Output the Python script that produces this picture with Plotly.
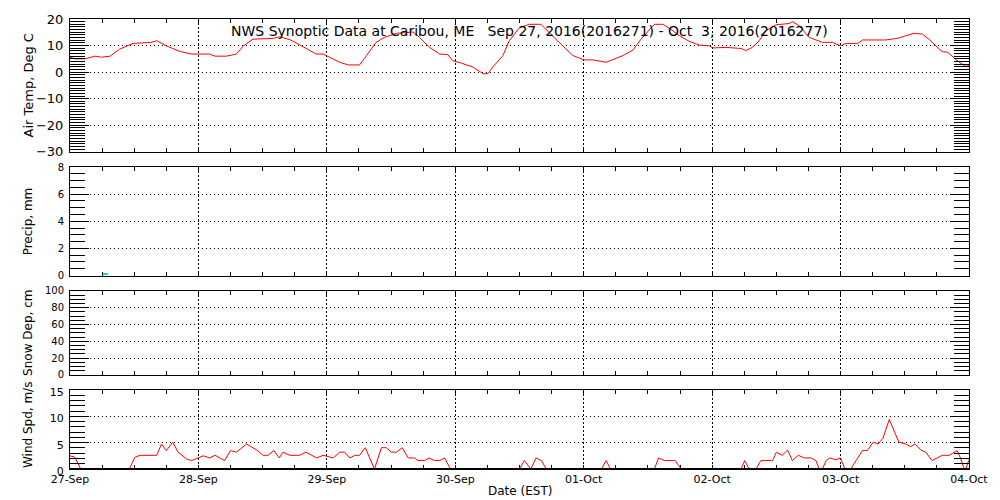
import pandas as pd
import plotly.graph_objects as go

# ---------------- data (hours since 2016-09-27 00:00 EST) ----------------
start = pd.Timestamp("2016-09-27 00:00")
end = pd.Timestamp("2016-10-04 00:00")

temp_hours = [0, 0.9, 2.8, 4.7, 5.9, 7.5, 9.3, 11.8, 15.2, 16.2, 18.0, 20.5, 22.7, 26.1, 27.1, 29.2,
              31.1, 32.4, 34.2, 38.0, 39.2, 41.1, 42.9, 46.0, 47.3, 48.5, 50.4, 52.0, 54.1, 55.4, 57.2,
              58.8, 61.0, 64.1, 65.3, 67.2, 69.1, 70.6, 71.5, 73.1, 75.3, 77.2, 78.1, 79.0, 80.9, 82.1,
              84.0, 85.9, 88.0, 90.8, 94.0, 96.1, 97.7, 100.2, 101.4, 103.3, 105.2, 106.7, 109.2, 110.8,
              112.0, 113.9, 115.7, 117.6, 119.5, 120.1, 122.6, 125.4, 126.3, 127.5, 128.8, 130.0, 131.9,
              134.4, 135.0, 136.3, 138.1, 140.6, 142.5, 144.0, 145.0, 147.2, 148.1, 152.4, 154.6, 156.2,
              157.7, 159.3, 160.5, 161.8, 163.0, 164.0, 164.9, 165.8, 167.4, 168]
air_temp_c = [5.6, 5.0, 5.0, 6.0, 5.6, 6.0, 8.7, 10.8, 11.2, 11.8, 9.9, 7.8, 6.8, 6.8, 6.0, 6.0,
              6.8, 9.9, 12.4, 12.7, 13.3, 12.2, 10.3, 6.8, 6.8, 5.6, 3.7, 2.7, 2.7, 6.2, 11.2,
              13.1, 14.6, 15.1, 13.1, 9.3, 6.8, 6.6, 4.3, 3.4, 1.9, -0.6, -0.6, 1.9, 6.2, 11.8,
              16.8, 18.0, 18.0, 12.4, 6.2, 4.6, 4.6, 3.7, 4.6, 6.2, 8.3, 12.4, 18.0, 18.0,
              16.5, 13.7, 11.6, 10.2, 9.9, 9.1, 9.3, 8.9, 8.1, 9.3, 11.8, 15.5, 17.8,
              18.3, 19.0, 17.4, 13.1, 11.2, 11.2, 9.9, 10.8, 10.8, 12.1, 12.1, 12.7, 13.7,
              14.6, 14.3, 12.4, 9.9, 7.7, 7.5, 5.8, 4.3, 2.1, 2.5]

precip_hours = [6.5]
precip_mm = [0.15]

snow_hours = []
snow_cm = []

wind_hours = [0, 0.9, 2.0, 11.1, 12.1, 13.1, 16.2, 17.1, 18.0, 19.2, 20.2, 21.8, 22.7, 24.9, 26.1,
              27.1, 28.9, 30.0, 31.1, 33.0, 34.9, 36.1, 37.0, 38.1, 39.1, 39.8, 41.1, 42.9, 44.1,
              46.1, 47.3, 49.2, 50.4, 51.3, 52.3, 53.2, 54.1, 55.2, 56.0, 56.9, 58.2, 59.1, 60.1,
              61.0, 62.1, 63.2, 64.4, 65.0, 66.3, 67.1, 68.1, 69.1, 70.0, 71.1, 84.0, 84.9, 86.1,
              87.1, 88.1, 89.0, 99.3, 100.2, 101.0, 109.2, 110.0, 111.1, 113.1, 114.2, 125.4,
              126.1, 126.9, 128.2, 129.1, 131.3, 132.0, 133.1, 134.1, 135.0, 136.1, 137.2, 138.5,
              139.4, 140.0, 140.6, 141.3, 142.0, 143.1, 144.0, 144.8, 145.9, 146.9, 148.1, 149.0,
              150.1, 151.0, 151.9, 153.1, 154.9, 156.2, 157.1, 157.9, 159.0, 159.9, 161.1, 163.0,
              164.3, 165.8, 166.4, 167.1, 167.4, 168]
wind_ms = [2.5, 2.25, 0, 0, 2.2, 2.6, 2.6, 4.75, 3.5, 5.1, 3.2, 1.9, 1.6, 2.5, 2.1,
           2.6, 1.6, 3.5, 3.2, 4.75, 3.6, 2.6, 2.6, 3.5, 2.1, 3.2, 2.6, 2.6, 3.2,
           2.1, 2.6, 2.1, 3.2, 3.2, 2.1, 2.6, 2.6, 4.05, 2.1, 0, 4.05, 4.05, 3.2,
           3.2, 4.05, 2.1, 2.1, 1.6, 1.6, 2.1, 1.6, 1.6, 2.1, 0, 0, 1.6, 0,
           2.1, 1.6, 0, 0, 1.6, 0, 0, 2.1, 1.6, 1.6, 0, 0,
           1.6, 0, 0, 1.6, 1.6, 3.2, 2.6, 3.6, 1.6, 2.6, 2.1, 2.1,
           1.6, 0, 0, 1.6, 2.1, 1.75, 2.1, 0, 0, 1.6, 3.5, 3.5,
           5.1, 4.75, 5.8, 9.4, 5.1, 4.75, 4.25, 4.75, 3.6, 3.2, 1.6, 2.6,
           2.6, 3.5, 2.1, 0, 0, 1.75]

title_text = "NWS Synoptic Data at Caribou, ME   Sep 27, 2016(2016271) - Oct  3, 2016(2016277)"
y_titles = ["Air Temp, Deg C", "Precip, mm", "Snow Dep, cm", "Wind Spd, m/s"]
x_title = "Date (EST)"


def to_time(hours):
    return start + pd.to_timedelta(hours, unit="h")


FONT = "DejaVu Sans"
RED = "#ff0000"

fig = go.Figure()
fig.add_trace(go.Scatter(x=to_time(temp_hours), y=air_temp_c, mode="lines",
                         line=dict(color=RED, width=1), xaxis="x", yaxis="y"))
fig.add_trace(go.Bar(x=to_time(precip_hours), y=precip_mm, width=1.2 * 3600 * 1000,
                     marker=dict(color="#00e5e5", line=dict(width=0)), xaxis="x2", yaxis="y2"))
fig.add_trace(go.Scatter(x=to_time(snow_hours), y=snow_cm, mode="lines",
                         line=dict(color=RED, width=1), xaxis="x3", yaxis="y3"))
fig.add_trace(go.Scatter(x=to_time(wind_hours), y=wind_ms, mode="lines",
                         line=dict(color=RED, width=1), xaxis="x4", yaxis="y4"))

xcommon = dict(
    type="date", range=[start, end], showline=True, linecolor="black", linewidth=1,
    mirror="allticks", ticks="inside", ticklen=4, tickcolor="black",
    tick0=start, dtick=86400000, tickformat="%d-%b",
    showgrid=True, gridcolor="black", griddash="2px,2px", gridwidth=1, zeroline=False,
    minor=dict(dtick=21600000, tick0=start, ticks="inside", ticklen=4, tickcolor="black", showgrid=False),
    tickfont=dict(family=FONT, size=11, color="black"),
)


def ycommon(rng, dtick, minor_dtick, fsize):
    return dict(
        range=rng, showline=True, linecolor="black", linewidth=1, mirror="allticks",
        ticks="inside", ticklen=19, tickcolor="black", dtick=dtick, tick0=0,
        showgrid=True, gridcolor="black", griddash="1px,3px", gridwidth=1, zeroline=False,
        minor=dict(dtick=minor_dtick, tick0=0, ticks="inside", ticklen=15, tickcolor="black", showgrid=False),
        tickfont=dict(family=FONT, size=fsize, color="black"), ticklabelstandoff=3,
    )


doms = [[0.705, 1.0], [0.43, 0.671], [0.209, 0.396], [0.0, 0.1755]]

fig.update_layout(
    width=1000, height=500, showlegend=False,
    paper_bgcolor="white", plot_bgcolor="white",
    margin=dict(l=70, r=30, t=15, b=31),
    font=dict(family=FONT, color="black"),
    xaxis=dict(xcommon, anchor="y", matches="x4", showticklabels=False),
    xaxis2=dict(xcommon, anchor="y2", matches="x4", showticklabels=False),
    xaxis3=dict(xcommon, anchor="y3", matches="x4", showticklabels=False),
    xaxis4=dict(xcommon, anchor="y4", ticklabelstandoff=0),
    yaxis=dict(ycommon([-30, 20], 10, 1, 13), domain=doms[0], anchor="x"),
    yaxis2=dict(ycommon([0, 8], 2, 0.5, 10), domain=doms[1], anchor="x2"),
    yaxis3=dict(ycommon([0, 100], 20, 5, 10), domain=doms[2], anchor="x3"),
    yaxis4=dict(ycommon([0, 15], 5, 1, 11), domain=doms[3], anchor="x4", ticklabelshift=2),
    bargap=0,
)

# frame line drawn over the data along the bottom of the wind panel (as in the original, zero values hide under it)
fig.add_shape(type="line", xref="x4 domain", yref="y4 domain", x0=0, x1=1, y0=0, y1=0,
              line=dict(color="black", width=2), layer="above")

nb = lambda s: s.replace(" ", "\u00a0")
annots = [
    dict(text=nb(title_text), x=0.511, y=0.974, xref="paper", yref="paper",
         xanchor="center", yanchor="middle", showarrow=False, font=dict(size=14, family=FONT)),
    dict(text=nb(x_title), x=(520 - 70) / 900, y=(469 - 491) / 454, xref="paper", yref="paper",
         xanchor="center", yanchor="middle", showarrow=False, font=dict(size=12, family=FONT)),
]
title_sizes = [13, 12, 12, 12]
for i, t in enumerate(y_titles):
    d = doms[i]
    annots.append(dict(text=nb(t), x=(28 - 70) / 900, y=(d[0] + d[1]) / 2 + (0.01 if i == 3 else 0),
                       xref="paper", yref="paper",
                       xanchor="center", yanchor="middle", textangle=-90, showarrow=False,
                       font=dict(size=title_sizes[i], family=FONT)))
fig.update_layout(annotations=annots)

fig.write_html("out.html", config={"displayModeBar": False},
               post_script="document.body.style.margin='0px';")
